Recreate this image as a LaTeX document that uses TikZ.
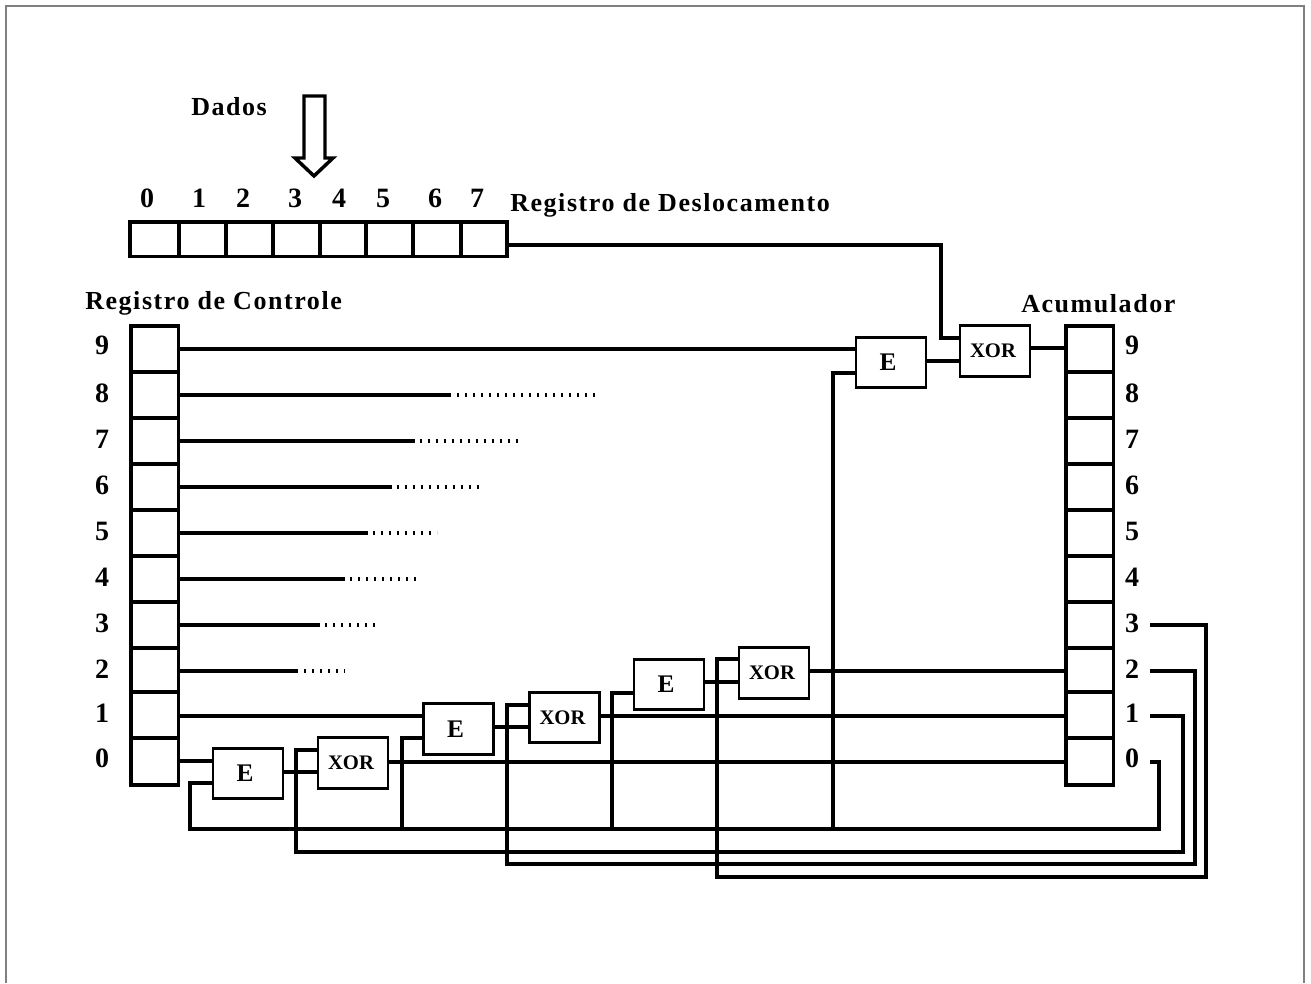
\documentclass[tikz,border=0pt]{standalone}
\usepackage{fontspec}
\setmainfont{Liberation Serif}
\newfontfamily\lblfont[LetterSpace=6]{Liberation Serif Bold}
\newfontfamily\gatefont{Liberation Serif Bold}
\newcommand{\gateE}{{\fontsize{19pt}{20pt}\gatefont\raisebox{-2.4pt}{\hspace*{-4.5pt}E}}}
\newcommand{\gateX}{{\fontsize{15.5pt}{16pt}\gatefont\raisebox{-1.3pt}{\hspace*{-3pt}XOR}}}
\begin{document}
\begin{tikzpicture}[x=0.75pt,y=-0.75pt,
  wire/.style={line width=2.3pt,line join=miter},
  thinwire/.style={line width=2.3pt,line join=miter},
  tickline/.style={line width=3pt,dash pattern=on 1.2pt off 4.8pt},
  cell/.style={draw,line width=2.3pt,inner sep=0pt,outer sep=0pt},
  gate/.style={draw,line width=2.2pt,inner sep=0pt,outer sep=0pt,minimum width=52.5pt,minimum height=38pt,fill=white},
  lbl/.style={font=\fontsize{19.5pt}{21pt}\lblfont,inner sep=0pt,text depth=0pt},
  num/.style={font=\fontsize{21pt}{22pt}\gatefont,inner sep=0pt}]
\useasboundingbox (0,0) rectangle (1311,983);
\draw[line width=0.8pt,black!50] (6,983) -- (6,6) -- (1304,6) -- (1304,983);

% shift register
\foreach \a/\b/\i in {130/179/0,179/226/1,226/273/2,273/320/3,320/366/4,366/413/5,413/461/6,461/507/7}
  \node[cell,minimum width={(\b-\a)*0.75pt},minimum height=26pt,anchor=north west] (s\i) at (\a,222) {};
\foreach \x/\i in {147/0,199/1,243/2,295/3,339/4,383/5,435/6,477/7}
  \node[num] (sn\i) at (\x,198) {\i};

% control register and accumulator
\foreach \a/\b/\i in {326/372/9,372/418/8,418/464/7,464/510/6,510/556/5,556/602/4,602/648/3,648/692/2,692/738/1,738/785/0}{
  \node[cell,minimum width=35.5pt,minimum height={(\b-\a)*0.75pt},anchor=north west] (c\i) at (131,\a) {};
  \node[cell,minimum width=35.5pt,minimum height={(\b-\a)*0.75pt},anchor=north west] (a\i) at (1066,\a) {};
}
\foreach \y/\i in {345/9,393/8,439/7,485/6,531/5,577/4,623/3,669/2,713/1,758/0}{
  \node[num] (cn\i) at (102,\y) {\i};
  \node[num] (an\i) at (1132,\y) {\i};
}

% gates
\node[gate] (E0) at (248,773.5) {\gateE};
\node[gate] (X0) at (353,763) {\gateX};
\node[gate] (E1) at (458.5,729) {\gateE};
\node[gate] (X1) at (564.5,717.5) {\gateX};
\node[gate] (E2) at (669,684.5) {\gateE};
\node[gate] (X2) at (774,673) {\gateX};
\node[gate] (E3) at (891,362.5) {\gateE};
\node[gate] (X3) at (995,351) {\gateX};

% texts
\node[lbl,anchor=west] (dados) at (191,106) {Dados};
\node[lbl,anchor=west] (rd) at (510,202) {Registro de Deslocamento};
\node[lbl,anchor=west] (rc) at (85,300) {Registro de Controle};
\node[lbl,anchor=west] (ac) at (1021,303) {Acumulador};

% data arrow
\draw[line width=2.6pt,line join=miter] (304,96) -- (325,96) -- (325,158) -- (333,158) -- (314,176) -- (295,158) -- (304,158) -- cycle;

% free ends of the feedback wires, just right of the accumulator numbers
\coordinate (w0) at (1150,762);
\coordinate (w1) at (1150,716);
\coordinate (w2) at (1150,671);
\coordinate (w3) at (1150,625);

% connectors
\draw[wire] (s7.east|-0,245) -- (941,245) -- (941,338) -- (X3.west|-0,338);
\draw[wire] (E3.east|-0,361) -- (X3.west|-0,361);
\draw[thinwire] (X3.east|-0,348) -- (a9.west|-0,348);
\draw[thinwire] (c9.east|-0,349) -- (E3.west|-0,349);
\draw[wire] (E3.west|-0,373) -- (833,373) -- (833,829);

\foreach \i/\y/\e/\da/\db in {8/395/451/457/600,7/441/415/420/520,6/487/392/397/482,5/533/368/373/437,4/579/345/350/416,3/625/320/325/379,2/671/298/304/345}{
  \draw[wire] (c\i.east|-0,\y) -- (\e,\y);
  \draw[tickline] (\da,\y) -- (\db,\y);
}

\draw[thinwire] (c1.east|-0,716) -- (E1.west|-0,716);
\draw[wire] (c0.east|-0,761) -- (E0.west|-0,761);
\draw[wire] (E0.west|-0,783) -- (190,783) -- (190,829) -- (1159,829) -- (1159,762) -- (w0);
\draw[wire] (E0.east|-0,772) -- (X0.west|-0,772);
\draw[wire] (X0.west|-0,750) -- (296,750) -- (296,852) -- (1183,852) -- (1183,716) -- (w1);
\draw[wire] (X0.east|-0,762) -- (a0.west|-0,762);
\draw[wire] (E1.west|-0,738) -- (402,738) -- (402,829);
\draw[wire] (E1.east|-0,727) -- (X1.west|-0,727);
\draw[wire] (X1.west|-0,705) -- (507,705) -- (507,864) -- (1195,864) -- (1195,671) -- (w2);
\draw[wire] (X1.east|-0,716) -- (a1.west|-0,716);
\draw[wire] (E2.west|-0,693) -- (612,693) -- (612,829);
\draw[wire] (E2.east|-0,682) -- (X2.west|-0,682);
\draw[wire] (X2.west|-0,659) -- (717,659) -- (717,877) -- (1206,877) -- (1206,625) -- (w3);
\draw[wire] (X2.east|-0,671) -- (a2.west|-0,671);
\end{tikzpicture}
\end{document}
